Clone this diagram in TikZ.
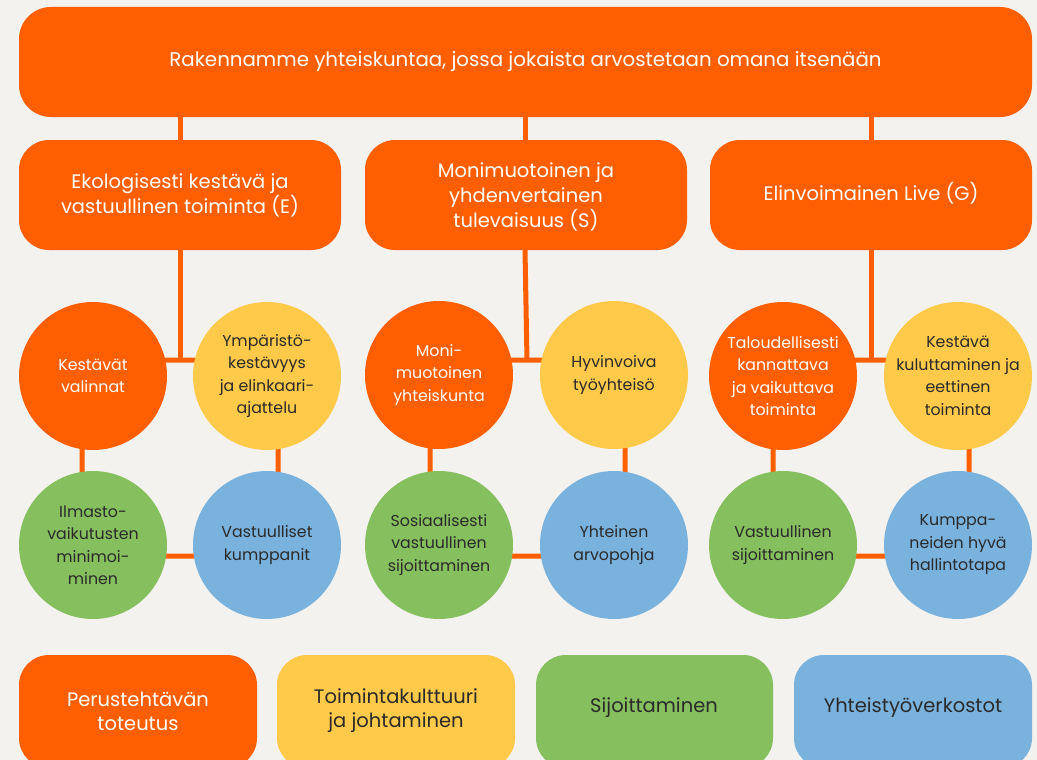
\documentclass[tikz,border=0pt]{standalone}
\usepackage{fontspec}
\setmainfont{Poppins}
\definecolor{corange}{HTML}{FF5F00}
\definecolor{cyellow}{HTML}{FFC94A}
\definecolor{cgreen}{HTML}{86BF5E}
\definecolor{cblue}{HTML}{7AB2DE}
\definecolor{cbg}{HTML}{F3F2EF}
\definecolor{cdark}{HTML}{2A2A2A}
\begin{document}
\begin{tikzpicture}[x=1pt,y=-1pt,
  conn/.style={draw=corange,line width=5pt},
  circ/.style={circle,minimum size=148pt,inner sep=0pt,align=center,font=\fontsize{15.8}{22.5}\selectfont},
  oc/.style={circ,fill=corange,text=white},
  yc/.style={circ,fill=cyellow,text=cdark},
  gc/.style={circ,fill=cgreen,text=cdark},
  bc/.style={circ,fill=cblue,text=cdark},
  lbl/.style={align=center,inner sep=0pt},
  midfont/.style={font=\fontsize{19.5}{25}\selectfont},
  legfont/.style={font=\fontsize{19.5}{24}\selectfont}
]
\useasboundingbox (0,0) rectangle (1037,760);
\clip (0,0) rectangle (1037,760);
\fill[cbg] (0,0) rectangle (1037,760);

% top box
\fill[corange,rounded corners=32pt] (19,7) rectangle (1032,117);
\node[lbl,text=white,font=\fontsize{19.8}{24}\selectfont] (top) at (525.5,62) {Rakennamme yhteiskuntaa, jossa jokaista arvostetaan omana itsenään};
\coordinate (topE) at (180,117);
\coordinate (topS) at (525,117);
\coordinate (topG) at (871,117);

% level 2
\fill[corange,rounded corners=30pt] (19,140) rectangle (341,250);
\fill[corange,rounded corners=30pt] (365,140) rectangle (687,250);
\fill[corange,rounded corners=30pt] (710,140) rectangle (1032,250);
\node[lbl,text=white,midfont] (E) at (180,195) {Ekologisesti kestävä ja\\vastuullinen toiminta (E)};
\node[lbl,text=white,midfont] (S) at (526,197) {Monimuotoinen ja\\yhdenvertainen\\tulevaisuus (S)};
\node[lbl,text=white,midfont] (G) at (871,193) {Elinvoimainen Live (G)};
\coordinate (Eb) at (180,250);
\coordinate (Sb) at (525,250);
\coordinate (Gb) at (871,250);
\coordinate (Et) at (180,140);
\coordinate (St) at (525,140);
\coordinate (Gt) at (871,140);

\draw[conn] (topE) -- (Et);
\draw[conn] (topS) -- (St);
\draw[conn] (topG) -- (Gt);

% ring connectors
\coordinate (ringE) at (180,360);
\coordinate (ringS) at (527,360);
\coordinate (ringG) at (871,360);
\draw[conn] (Eb) -- (ringE);
\draw[conn] (Sb) -- (ringS);
\draw[conn] (Gb) -- (ringG);
\draw[conn,rounded corners=30pt] (82,360) rectangle (278,556);
\draw[conn,rounded corners=30pt] (430,360) rectangle (625,556);
\draw[conn,rounded corners=30pt] (773,360) rectangle (969,556);

% circles E
\node[oc] (e1) at (93,376) {Kestävät\\valinnat};
\node[yc] (e2) at (267,376) {Ympäristö-\\kestävyys\\ja elinkaari-\\ajattelu};
\node[gc] (e3) at (93,545) {Ilmasto-\\vaikutusten\\minimoi-\\minen};
\node[bc] (e4) at (267,545) {Vastuulliset\\kumppanit};
% circles S
\node[oc] (s1) at (439,375) {Moni-\\muotoinen\\yhteiskunta};
\node[yc] (s2) at (614,375) {Hyvinvoiva\\työyhteisö};
\node[gc] (s3) at (439,545) {Sosiaalisesti\\vastuullinen\\sijoittaminen};
\node[bc] (s4) at (614,545) {Yhteinen\\arvopohja};
% circles G
\node[oc] (g1) at (783,376) {Taloudellisesti\\kannattava\\ja vaikuttava\\toiminta};
\node[yc] (g2) at (958,376) {Kestävä\\kuluttaminen ja\\eettinen\\toiminta};
\node[gc] (g3) at (783,545) {Vastuullinen\\sijoittaminen};
\node[bc] (g4) at (958,545) {Kumppa-\\neiden hyvä\\hallintotapa};

% bottom legend boxes
\fill[corange,rounded corners=30pt] (19,655) rectangle (257,768);
\fill[cyellow,rounded corners=30pt] (277,655) rectangle (515,768);
\fill[cgreen,rounded corners=30pt] (536,655) rectangle (773,768);
\fill[cblue,rounded corners=30pt] (794,655) rectangle (1032,768);
\node[lbl,text=white,legfont] (l1) at (138,711) {Perustehtävän\\toteutus};
\node[lbl,text=cdark,legfont] (l2) at (396,711) {Toimintakulttuuri\\ja johtaminen};
\node[lbl,text=cdark,legfont] (l3) at (654,708) {Sijoittaminen};
\node[lbl,text=cdark,legfont] (l4) at (913,708) {Yhteistyöverkostot};
\end{tikzpicture}
\end{document}
